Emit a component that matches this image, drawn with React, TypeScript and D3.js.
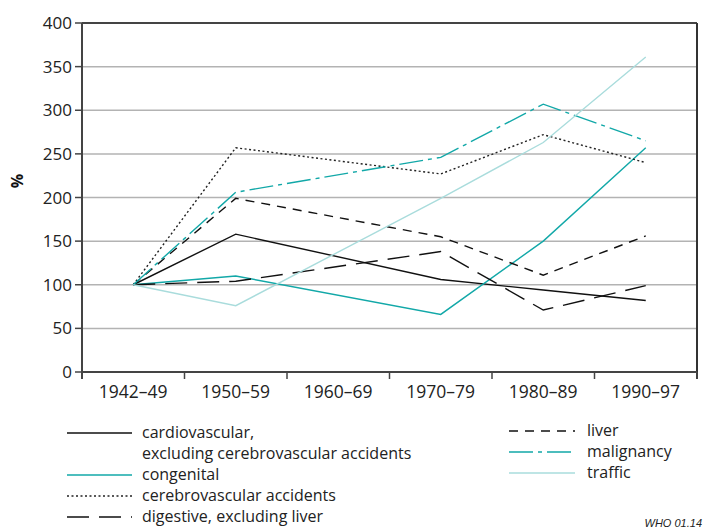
import React from 'react';
import * as d3 from 'd3';

const periods = ['1942–49', '1950–59', '1960–69', '1970–79', '1980–89', '1990–97'];
const yTicks = [0, 50, 100, 150, 200, 250, 300, 350, 400];

// no data for 1960–69, the lines join 1950–59 to 1970–79
const cardiovascular = [100, 158, null, 106, 94, 82];
const congenital = [100, 110, null, 66, 150, 257];
const cerebrovascular = [100, 257, null, 227, 272, 240];
const digestive = [100, 104, null, 138, 71, 99];
const liver = [100, 199, null, 155, 111, 156];
const malignancy = [100, 206, null, 246, 307, 265];
const traffic = [100, 76, null, 199, 263, 361];

const TEAL = '#12a8a8';
const LIGHT = '#a9dcdc';

const series = [
  { name: 'cardiovascular', values: cardiovascular, color: '#111', dash: null, width: 1.4 },
  { name: 'congenital', values: congenital, color: TEAL, dash: null, width: 1.4 },
  { name: 'cerebrovascular accidents', values: cerebrovascular, color: '#222', dash: '2,2.5', width: 1.4 },
  { name: 'digestive, excluding liver', values: digestive, color: '#111', dash: '22,10', width: 1.4 },
  { name: 'liver', values: liver, color: '#111', dash: '9,7', width: 1.4 },
  { name: 'malignancy', values: malignancy, color: TEAL, dash: '24,5,4,5', width: 1.4 },
  { name: 'traffic', values: traffic, color: LIGHT, dash: null, width: 1.4 },
];

const leftLegend = [
  { s: 0, lines: ['cardiovascular,', 'excluding cerebrovascular accidents'] },
  { s: 1, lines: ['congenital'] },
  { s: 2, lines: ['cerebrovascular accidents'] },
  { s: 3, lines: ['digestive, excluding liver'] },
];
const rightLegend = [4, 5, 6];

export default function App() {
  const W = 706;
  const H = 530;
  const left = 82, right = 697, top = 23, bottom = 372;

  const x = d3.scaleBand<string>().domain(periods).range([left, right]).padding(0);
  const y = d3.scaleLinear().domain([0, 400]).range([bottom, top]);
  const cx = (i: number) => (x(periods[i]) as number) + x.bandwidth() / 2;

  const line = d3.line<[number, number]>().x(d => d[0]).y(d => d[1]);

  const font = "'Open Sans', sans-serif";
  const rowH = 21;

  return (
    <svg width={W} height={H} style={{ position: 'absolute', left: 0, top: 0, background: '#fff' }}
      fontFamily={font}>
      {/* grid */}
      {yTicks.filter(t => t > 0 && t < 400).map(t => (
        <line key={t} x1={left} x2={right} y1={y(t)} y2={y(t)} stroke="#b3b3b3" strokeWidth={1.5} />
      ))}
      {/* frame */}
      <line x1={left} x2={right} y1={y(400)} y2={y(400)} stroke="#444" strokeWidth={2} />
      <line x1={right} x2={right} y1={top} y2={bottom + 7} stroke="#333" strokeWidth={2} />
      <line x1={left} x2={left} y1={top} y2={bottom + 7} stroke="#444" strokeWidth={2} />
      <line x1={left} x2={right} y1={bottom} y2={bottom} stroke="#444" strokeWidth={2} />
      {/* y ticks */}
      {yTicks.map(t => (
        <g key={t}>
          <line x1={left - 7} x2={left} y1={y(t)} y2={y(t)} stroke="#444" strokeWidth={1.5} />
          <text x={left - 10} y={y(t)} dy="0.36em" textAnchor="end" fontSize={17} fill="#222">{t}</text>
        </g>
      ))}
      {/* x ticks */}
      {periods.map((p, i) => (
        <g key={p}>
          <line x1={(x(p) as number) + x.bandwidth()} x2={(x(p) as number) + x.bandwidth()}
            y1={bottom} y2={bottom + 7} stroke="#444" strokeWidth={1.5} />
          <text x={cx(i)} y={bottom + 26} textAnchor="middle" fontSize={17.5} fill="#222">{p}</text>
        </g>
      ))}
      <text transform={`translate(23,${181}) rotate(-90)`} textAnchor="middle" fontSize={16}
        fontWeight="bold" fill="#111">%</text>

      {/* lines */}
      {series.map(s => {
        const pts = s.values
          .map((v, i) => (v == null ? null : [cx(i), y(v)] as [number, number]))
          .filter(d => d != null) as [number, number][];
        return (
          <path key={s.name} d={line(pts) || ''} fill="none" stroke={s.color}
            strokeWidth={s.width} strokeDasharray={s.dash || undefined} />
        );
      })}

      {/* legend left */}
      {(() => {
        let row = 0;
        return leftLegend.map(item => {
          const s = series[item.s];
          const yy = 433 + row * rowH;
          const g = (
            <g key={s.name}>
              <line x1={67} x2={132} y1={yy} y2={yy} stroke={s.color} strokeWidth={s.width}
                strokeDasharray={s.dash || undefined} />
              {item.lines.map((t, k) => (
                <text key={k} x={142} y={yy + k * rowH} dy="0.32em" fontSize={16} fill="#222">{t}</text>
              ))}
            </g>
          );
          row += item.lines.length;
          return g;
        });
      })()}
      {/* legend right */}
      {rightLegend.map((si, k) => {
        const s = series[si];
        const yy = 431 + k * rowH;
        return (
          <g key={s.name}>
            <line x1={509} x2={575} y1={yy} y2={yy} stroke={s.color} strokeWidth={s.width}
              strokeDasharray={s.dash || undefined} />
            <text x={587} y={yy} dy="0.32em" fontSize={16} fill="#222">{s.name}</text>
          </g>
        );
      })}
      <text x={702} y={527} textAnchor="end" fontSize={11} fontStyle="italic"
        fontFamily="'Liberation Sans', Arial, sans-serif" fill="#222">WHO 01.14</text>
    </svg>
  );
}
